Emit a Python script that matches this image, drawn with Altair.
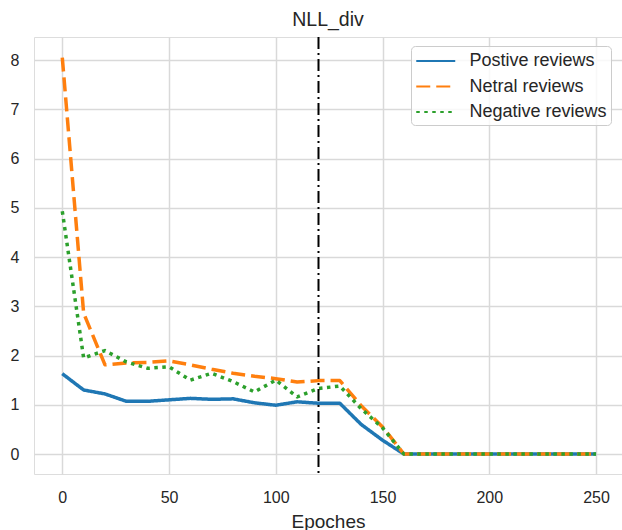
import altair as alt
import pandas as pd

# Epochs sampled every 10 steps
epochs = list(range(0, 260, 10))

positive = [1.63, 1.30, 1.22, 1.07, 1.07, 1.10, 1.13, 1.11, 1.12, 1.04, 0.99, 1.06, 1.03,
            1.03, 0.60, 0.28, 0.0] + [0.0] * 9
neutral = [8.05, 2.86, 1.81, 1.85, 1.86, 1.89, 1.81, 1.72, 1.64, 1.58, 1.53, 1.46, 1.49,
           1.49, 0.98, 0.55, 0.0] + [0.0] * 9
negative = [4.93, 1.95, 2.10, 1.87, 1.74, 1.77, 1.50, 1.64, 1.47, 1.26, 1.50, 1.16, 1.33,
            1.38, 0.92, 0.53, 0.0] + [0.0] * 9

series_names = ["Postive reviews", "Netral reviews", "Negative reviews"]
series_colors = ["#1f77b4", "#ff7f0e", "#2ca02c"]
series_dashes = [[1, 0], [14, 6], [3.5, 4.5]]

marker_epoch = [120]

x_ticks = [0, 50, 100, 150, 200, 250]
y_ticks = [0, 1, 2, 3, 4, 5, 6, 7, 8]

FONT = "Liberation Sans"
TEXT = "#262626"

rows = []
for name, vals in zip(series_names, [positive, neutral, negative]):
    for e, v in zip(epochs, vals):
        rows.append({"epoch": e, "value": v, "series": name})
df = pd.DataFrame(rows)

x_enc = alt.X(
    "epoch:Q",
    scale=alt.Scale(domain=[-13.25, 262.15], nice=False, zero=False),
    axis=alt.Axis(
        values=x_ticks, title="Epoches", ticks=False, tickSize=0, domain=False,
        labelFontSize=16, labelFont=FONT, labelColor=TEXT, labelPadding=15,
        titleFontSize=19, titleFont=FONT, titleColor=TEXT, titleFontWeight="normal",
        titleBaseline="alphabetic", titleY=53,
        grid=True, gridColor="#d9d9d9", gridWidth=1.5,
    ),
)
y_enc = alt.Y(
    "value:Q",
    scale=alt.Scale(domain=[-0.406, 8.467], nice=False, zero=False),
    axis=alt.Axis(
        values=y_ticks, title=None, ticks=False, tickSize=0, domain=False,
        labelFontSize=16, labelFont=FONT, labelColor=TEXT, labelPadding=15,
        grid=True, gridColor="#d9d9d9", gridWidth=1.5,
    ),
)

# Legend key: a horizontal stroke drawn from the symbol's left edge
legend = alt.Legend(
    orient="none", legendX=377, legendY=9, title=None,
    symbolType="M-1,0H3", symbolSize=380, symbolStrokeWidth=2, symbolFillColor="transparent",
    labelFontSize=18, labelFont=FONT, labelColor=TEXT, labelOffset=32.5,
    fillColor="rgba(255,255,255,0.8)", strokeColor="#cccccc", cornerRadius=4,
    padding=4, rowPadding=5.5,
)

base = alt.Chart(df).mark_line(strokeWidth=3.5, strokeJoin="round").encode(
    x=x_enc,
    y=y_enc,
    color=alt.Color("series:N", scale=alt.Scale(domain=series_names, range=series_colors),
                    legend=legend),
    strokeDash=alt.StrokeDash("series:N",
                              scale=alt.Scale(domain=series_names, range=series_dashes),
                              legend=legend),
)

layers = [base.transform_filter(alt.datum.series == name) for name in series_names]

marker = alt.Chart(pd.DataFrame({"epoch": marker_epoch})).mark_rule(
    color="black", strokeWidth=2, strokeDash=[12, 4, 2, 4]
).encode(x="epoch:Q")

chart = alt.layer(*layers, marker).properties(
    width=588,
    height=437,
    title=alt.TitleParams("NLL_div", fontSize=19.5, font=FONT, fontWeight="normal",
                          color=TEXT, anchor="middle", baseline="alphabetic", offset=10,
                          dy=19),
    autosize=alt.AutoSizeParams(type="none"),
    padding={"left": 34, "top": 37, "right": 0, "bottom": 56},
).configure_view(stroke="#cccccc", strokeWidth=1.5).configure(background="white")

chart.save("out.html", embed_options={"renderer": "svg", "actions": False})
